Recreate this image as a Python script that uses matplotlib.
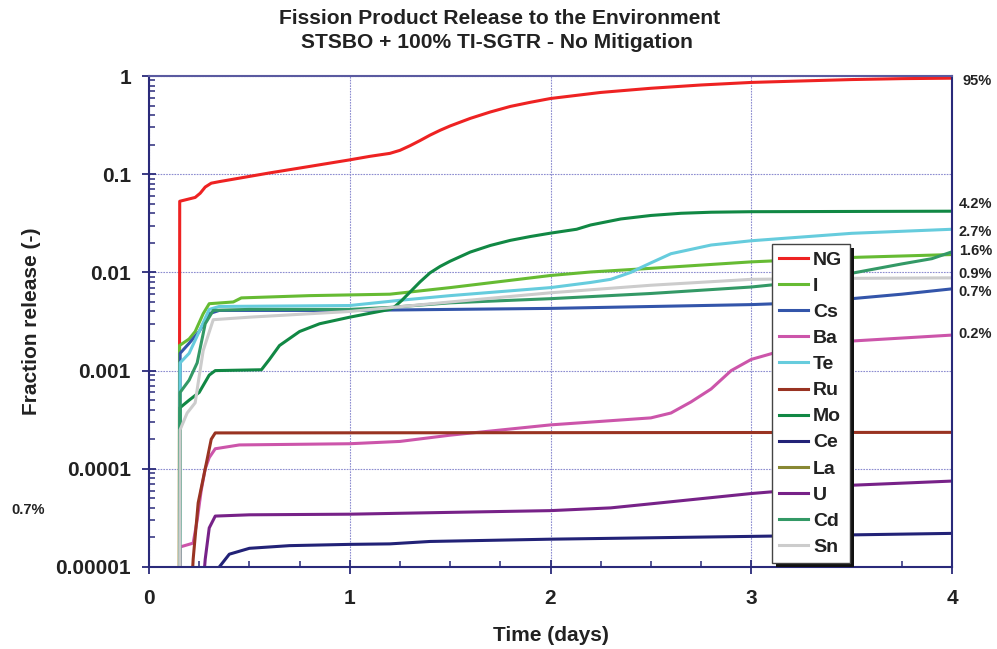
import matplotlib
matplotlib.use("Agg")
import matplotlib.pyplot as plt
from matplotlib.ticker import MultipleLocator, LogLocator, NullFormatter
from matplotlib.patches import Rectangle
from matplotlib.transforms import IdentityTransform

plt.rcParams['font.family'] = ['Liberation Sans', 'DejaVu Sans']
plt.rcParams['font.weight'] = 'bold'

# ---------------- data (time in days, fraction released) ----------------
series_names = ["NG", "I", "Cs", "Ba", "Te", "Ru", "Mo", "Ce", "La", "U", "Cd", "Sn"]
series_colors = ["#ee2222", "#66bb33", "#3355aa", "#cc55aa", "#66ccdd", "#993322",
                 "#118844", "#222277", "#888833", "#772288", "#339966", "#cccccc"]

NG_t = [0.150, 0.153, 0.20, 0.23, 0.255, 0.28, 0.31, 0.35, 0.6, 0.8, 1.0, 1.1, 1.2, 1.25, 1.3,
        1.35, 1.4, 1.45, 1.5, 1.6, 1.7, 1.8, 1.9, 2.0, 2.25, 2.5, 2.75, 3.0, 3.25, 3.5, 3.75, 4.0]
NG_v = [1e-7, 0.053, 0.056, 0.058, 0.064, 0.074, 0.081, 0.084, 0.103, 0.12, 0.14, 0.152, 0.163,
        0.175, 0.195, 0.22, 0.25, 0.28, 0.31, 0.37, 0.43, 0.49, 0.54, 0.59, 0.68, 0.75, 0.81,
        0.86, 0.89, 0.92, 0.94, 0.95]

I_t = [0.150, 0.152, 0.20, 0.23, 0.27, 0.30, 0.42, 0.46, 0.8, 1.2, 1.5, 2.0, 2.2, 2.5, 3.0,
       3.5, 4.0]
I_v = [1e-7, 0.0018, 0.0021, 0.0025, 0.0038, 0.0048, 0.0050, 0.0055, 0.0058, 0.0060, 0.0070,
       0.0093, 0.0101, 0.0110, 0.0128, 0.0142, 0.0152]

Cs_t = [0.150, 0.155, 0.20, 0.25, 0.30, 0.35, 1.0, 2.0, 3.0, 3.25, 3.5, 3.75, 4.0]
Cs_v = [1e-7, 0.0015, 0.0019, 0.0025, 0.0038, 0.0041, 0.0041, 0.0043, 0.0047, 0.0049,
        0.0054, 0.0060, 0.0068]

Ba_t = [0.150, 0.155, 0.22, 0.24, 0.26, 0.28, 0.30, 0.33, 0.45, 1.0, 1.25, 1.5, 2.0, 2.5, 2.6,
        2.7, 2.8, 2.9, 3.0, 3.2, 3.5, 4.0]
Ba_v = [1e-7, 1.6e-5, 1.75e-5, 3.0e-5, 6.0e-5, 0.0001, 0.00013, 0.00016, 0.000175, 0.00018,
        0.00019, 0.00022, 0.00028, 0.00033, 0.00037, 0.00048, 0.00065, 0.0010, 0.0013, 0.0017,
        0.0020, 0.0023]

Te_t = [0.150, 0.155, 0.20, 0.25, 0.30, 0.35, 1.0, 1.25, 1.5, 2.0, 2.2, 2.3, 2.4, 2.45, 2.5,
        2.6, 2.8, 3.0, 3.5, 4.0]
Te_v = [1e-7, 0.0012, 0.0015, 0.0025, 0.0042, 0.0045, 0.0046, 0.0052, 0.0058, 0.0070, 0.0079,
        0.0085, 0.0100, 0.0112, 0.0125, 0.0155, 0.019, 0.021, 0.025, 0.0275]

Ru_t = [0.21, 0.22, 0.245, 0.28, 0.31, 0.33, 4.0]
Ru_v = [5e-6, 1.2e-5, 4.5e-5, 0.0001, 0.0002, 0.000232, 0.000235]

Mo_t = [0.150, 0.155, 0.20, 0.25, 0.30, 0.33, 0.56, 0.60, 0.65, 0.75, 0.85, 1.0, 1.2, 1.22,
        1.26, 1.3, 1.35, 1.4, 1.45, 1.5, 1.6, 1.7, 1.8, 1.9, 2.0, 2.13, 2.2, 2.35, 2.5, 2.65,
        2.8, 3.0, 4.0]
Mo_v = [1e-7, 0.00042, 0.0005, 0.0006, 0.0009, 0.0010, 0.00102, 0.0013, 0.0018, 0.0025, 0.0030,
        0.0035, 0.0042, 0.0044, 0.0052, 0.0063, 0.0080, 0.0099, 0.0115, 0.0130, 0.0161,
        0.0188, 0.0212, 0.0232, 0.0251, 0.0275, 0.0304, 0.035, 0.038, 0.040, 0.041, 0.0415,
        0.042]

Ce_t = [0.335, 0.35, 0.40, 0.50, 0.70, 1.0, 1.2, 1.4, 2.0, 3.0, 4.0]
Ce_v = [5e-6, 1.0e-5, 1.35e-5, 1.55e-5, 1.65e-5, 1.70e-5, 1.72e-5, 1.82e-5, 1.92e-5,
        2.05e-5, 2.2e-5]

La_t = [0.40, 1.0, 2.0, 3.0, 4.0]
La_v = [3e-6, 4e-6, 4.5e-6, 5e-6, 5.5e-6]

U_t = [0.265, 0.28, 0.30, 0.33, 0.5, 1.0, 1.5, 2.0, 2.3, 2.5, 3.0, 3.5, 4.0]
U_v = [5e-6, 1.2e-5, 2.5e-5, 3.3e-5, 3.4e-5, 3.45e-5, 3.6e-5, 3.75e-5, 4.0e-5, 4.4e-5,
       5.6e-5, 6.8e-5, 7.5e-5]

Cd_t = [0.150, 0.155, 0.20, 0.24, 0.28, 0.32, 0.5, 1.0, 1.2, 1.5, 2.0, 2.5, 3.0, 3.25, 3.5,
        3.75, 3.9, 4.0]
Cd_v = [1e-7, 0.0006, 0.0008, 0.0012, 0.0030, 0.0041, 0.0042, 0.0042, 0.0044, 0.0049, 0.0054,
        0.0061, 0.0071, 0.0080, 0.0098, 0.0122, 0.0138, 0.0162]

Sn_t = [0.150, 0.155, 0.19, 0.23, 0.245, 0.27, 0.32, 0.5, 1.0, 1.5, 2.0, 2.5, 3.0, 3.5, 4.0]
Sn_v = [1e-7, 0.00025, 0.00037, 0.00047, 0.00075, 0.0016, 0.0033, 0.0035, 0.0040, 0.0050,
        0.0062, 0.0074, 0.0085, 0.0087, 0.0088]

series_t = [NG_t, I_t, Cs_t, Ba_t, Te_t, Ru_t, Mo_t, Ce_t, La_t, U_t, Cd_t, Sn_t]
series_v = [NG_v, I_v, Cs_v, Ba_v, Te_v, Ru_v, Mo_v, Ce_v, La_v, U_v, Cd_v, Sn_v]

right_labels = ["95%", "4.2%", "2.7%", "1.6%", "0.9%", "0.7%", "0.2%"]
right_label_y_px = [81, 204, 232, 251, 274, 292, 334]

y_ticks = [1e-5, 1e-4, 1e-3, 1e-2, 1e-1, 1]
y_tick_labels = ["0.00001", "0.0001", "0.001", "0.01", "0.1", "1"]
x_ticks = [0, 1, 2, 3, 4]

# ---------------- figure ----------------
W, H = 997, 649
fig = plt.figure(figsize=(W / 100, H / 100), dpi=100)
ax = fig.add_axes([149 / W, 1 - 567 / H, (952 - 149) / W, (567 - 76) / H])

for name, col, t, v in zip(series_names, series_colors, series_t, series_v):
    ax.plot(t, v, color=col, lw=2.2, label=name, solid_joinstyle='round')

ax.set_yscale('log')
ax.set_ylim(1e-5, 1)
ax.set_xlim(0, 4)

spine_col = '#2a2a7a'
for s in ax.spines.values():
    s.set_color(spine_col)
    s.set_linewidth(1.5)
ax.spines['top'].set_color('#5a5aa0')

ax.set_xticks(x_ticks)
ax.set_xticklabels([str(x) for x in x_ticks])
ax.xaxis.set_minor_locator(MultipleLocator(0.25))
ax.set_yticks(y_ticks)
ax.set_yticklabels(y_tick_labels)
ax.yaxis.set_minor_locator(LogLocator(base=10, subs=range(2, 10)))
ax.yaxis.set_minor_formatter(NullFormatter())

ax.tick_params(axis='both', which='major', direction='inout', length=10, width=1.3,
               color=spine_col, labelsize=15)
ax.tick_params(axis='x', which='major', pad=11)
ax.tick_params(axis='y', which='major', pad=8)
ax.tick_params(axis='both', which='minor', direction='in', length=4.5, width=1.1,
               color=spine_col)
for lab in ax.get_xticklabels() + ax.get_yticklabels():
    lab.set_fontweight('bold')
    lab.set_color('#222222')

ax.grid(True, which='major', color='#8c8cd0', linestyle=(0, (1.5, 1.0)), linewidth=0.8)
ax.set_axisbelow(True)

ax.set_xlabel("Time (days)", fontsize=15, fontweight='bold', color='#222222', labelpad=13)
ax.set_ylabel("Fraction release (-)", fontsize=15, fontweight='bold', color='#222222',
              labelpad=10)

fig.text(500 / W, 1 - 18 / H, "Fission Product Release to the Environment", ha='center',
         va='center', fontsize=15.1, fontweight='bold', color='#222222')
fig.text(497 / W, 1 - 43 / H, "STSBO + 100% TI-SGTR - No Mitigation", ha='center',
         va='center', fontsize=15.1, fontweight='bold', color='#222222')

for lab, ypx in zip(right_labels, right_label_y_px):
    fig.text(992 / W, 1 - ypx / H, lab, ha='right', va='center', fontsize=10.5,
             fontweight='bold', color='#222222')
fig.text(28 / W, 1 - 510 / H, "0.7%", ha='center', va='center', fontsize=10.5,
         fontweight='bold', color='#222222')

leg = ax.legend(loc='upper left', bbox_to_anchor=(772 / W, 1 - 244 / H),
                bbox_transform=fig.transFigure, borderaxespad=0, fancybox=False,
                framealpha=1, edgecolor='#444444', prop={'size': 14, 'weight': 'bold'},
                handlelength=1.45, handletextpad=0.28, labelspacing=0.435, borderpad=0.38)
leg.get_frame().set_linewidth(1.0)
for txt in leg.get_texts():
    txt.set_color('#222222')
leg.set_zorder(10)

fig.canvas.draw()
bb = leg.get_window_extent()
shadow = Rectangle((bb.x0 + 4, bb.y0 - 4), bb.width, bb.height, transform=IdentityTransform(),
                   facecolor='#111111', edgecolor='none', zorder=9.5, clip_on=False)
ax.add_patch(shadow)

fig.savefig("out.png", dpi=100)
